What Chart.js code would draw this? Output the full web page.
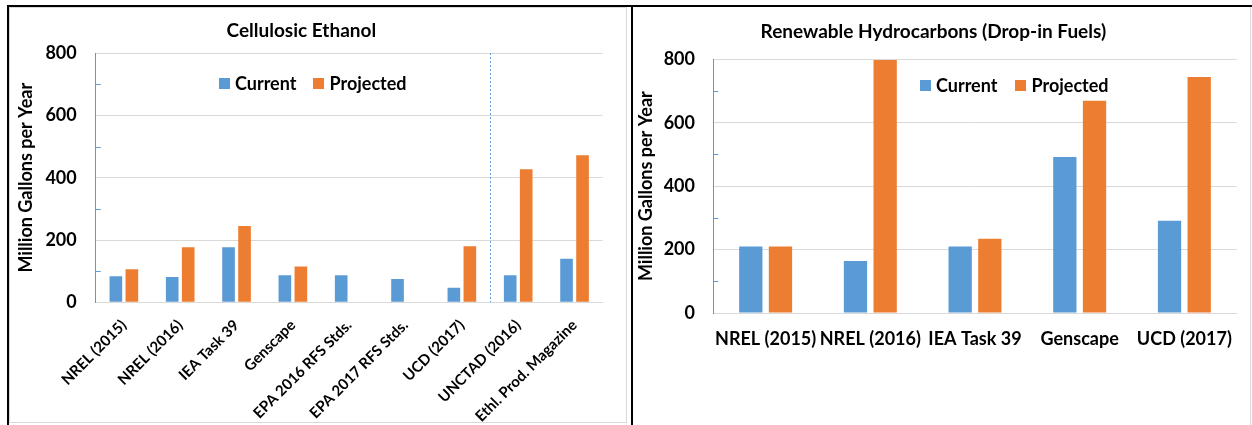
<!DOCTYPE html>
<html>
<head>
    <title>Cellulosic Ethanol / Renewable Hydrocarbons</title>
    <script src="https://cdn.jsdelivr.net/npm/chart.js"></script>
    <style>
        body { margin: 0; background: #fff; font-family: Lato, sans-serif; }
        .page { position: relative; width: 1252px; height: 425px; overflow: hidden; }
        .panel { position: absolute; top: 0; height: 425px; }
        .line { position: absolute; background: #000; }
        .gline { position: absolute; background: #d9d9d9; }
        .legend { position: absolute; display: flex; align-items: center; font-weight: bold; font-size: 18px; color: #000; white-space: nowrap; }
        .legend .sw { width: 11px; height: 11px; margin-right: 5px; }
        .legend .item { display: flex; align-items: center; margin-right: 17px; }
    </style>
</head>
<body>
<div class="page">
    <div class="panel" style="left:0;width:630px;"><canvas id="leftChart"></canvas></div>
    <div class="panel" style="left:630px;width:622px;"><canvas id="rightChart"></canvas></div>

    <!-- chart frames -->
    <div class="gline" style="left:9px;top:7px;width:618px;height:1px;"></div>
    <div class="gline" style="left:9px;top:7px;width:1px;height:416px;"></div>
    <div class="gline" style="left:626px;top:7px;width:1px;height:416px;"></div>
    <div class="gline" style="left:9px;top:422px;width:618px;height:1px;"></div>
    <div class="gline" style="left:1250px;top:7px;width:1px;height:418px;"></div>
    <div class="line" style="left:7px;top:5px;width:1245px;height:2px;"></div>
    <div class="line" style="left:7px;top:5px;width:2px;height:420px;"></div>
    <div class="line" style="left:631px;top:5px;width:2px;height:420px;"></div>

    <div class="legend" style="left:219px;top:72px;">
        <div class="item"><div class="sw" style="background:#5B9BD5"></div>Current</div>
        <div class="item"><div class="sw" style="background:#ED7D31"></div>Projected</div>
    </div>
    <div class="legend" style="left:920px;top:74px;">
        <div class="item" style="margin-right:18px;"><div class="sw" style="background:#5B9BD5"></div>Current</div>
        <div class="item"><div class="sw" style="background:#ED7D31"></div>Projected</div>
    </div>
</div>

<script>
    // data
    const leftCategories = ['NREL (2015)', 'NREL (2016)', 'IEA Task 39', 'Genscape', 'EPA 2016 RFS Stds.',
        'EPA 2017 RFS Stds.', 'UCD (2017)', 'UNCTAD (2016)', 'Ethl. Prod. Magazine'];
    const leftCurrent = [84, 81, 177, 87, 87, 75, 47, 87, 140];
    const leftProjected = [106, 177, 245, 115, null, null, 180, 427, 472];

    const rightCategories = ['NREL (2015)', 'NREL (2016)', 'IEA Task 39', 'Genscape', 'UCD (2017)'];
    const rightCurrent = [210, 164, 210, 492, 291];
    const rightProjected = [210, 798, 234, 669, 744];

    const yMin = 0;
    const yMax = 800;
    const yStep = 200;
    const minorTicks = [100, 300, 500, 700];

    const BLUE = '#5B9BD5';
    const ORANGE = '#ED7D31';
    const GRID = '#d9d9d9';
    const FONT = 'Lato';

    // small blue minor ticks on the value axis + optional dashed divider
    const axisExtras = {
        id: 'axisExtras',
        afterDraw(chart, args, opts) {
            const ctx = chart.ctx;
            const y = chart.scales.y;
            const x = chart.scales.x;
            ctx.save();
            ctx.strokeStyle = BLUE;
            ctx.lineWidth = 1;
            minorTicks.forEach(v => {
                const py = Math.round(y.getPixelForValue(v)) + 0.5;
                ctx.beginPath();
                ctx.moveTo(y.right, py);
                ctx.lineTo(y.right + 5, py);
                ctx.stroke();
            });
            if (opts.dividerAfter != null) {
                const i = opts.dividerAfter;
                const px = Math.round((x.getPixelForValue(i) + x.getPixelForValue(i + 1)) / 2) + 0.5;
                ctx.setLineDash([2, 2]);
                ctx.beginPath();
                ctx.moveTo(px, chart.chartArea.top);
                ctx.lineTo(px, chart.chartArea.bottom);
                ctx.stroke();
            }
            ctx.restore();
        }
    };

    function makeChart(id, cats, cur, proj, cfg) {
        const ctx = document.getElementById(id).getContext('2d');
        return new Chart(ctx, {
            type: 'bar',
            data: {
                labels: cats,
                datasets: [
                    { label: 'Current', data: cur, backgroundColor: BLUE },
                    { label: 'Projected', data: proj, backgroundColor: ORANGE }
                ]
            },
            options: {
                responsive: false,
                animation: false,
                devicePixelRatio: 1,
                categoryPercentage: cfg.catPct,
                barPercentage: cfg.barPct,
                layout: { padding: { left: 0, right: cfg.padRight, top: 0, bottom: 0 } },
                plugins: {
                    legend: { display: false },
                    tooltip: { enabled: false },
                    title: {
                        display: true,
                        text: cfg.title,
                        color: '#000',
                        font: { family: FONT, size: 19, weight: 'bold' },
                        padding: { top: cfg.titleTop, bottom: cfg.titleBottom }
                    },
                    axisExtras: { dividerAfter: cfg.divider }
                },
                scales: {
                    x: {
                        grid: { display: false, drawTicks: false },
                        border: { color: GRID },
                        ticks: {
                            color: '#000',
                            autoSkip: false,
                            minRotation: cfg.rot,
                            maxRotation: cfg.rot,
                            padding: cfg.xPad,
                            font: { family: FONT, size: cfg.xFont, weight: 'bold' }
                        },
                        afterFit: s => { s.height = cfg.xHeight; }
                    },
                    y: {
                        min: yMin,
                        max: yMax,
                        grid: { color: GRID, drawTicks: false },
                        border: { color: BLUE },
                        ticks: {
                            stepSize: yStep,
                            color: '#000',
                            padding: cfg.yPad,
                            font: { family: FONT, size: 18, weight: 'bold' }
                        },
                        title: {
                            display: true,
                            text: 'Million Gallons per Year',
                            color: '#000',
                            font: { family: FONT, size: 18, weight: 'bold' },
                            padding: { top: cfg.yTitlePad, bottom: 0 }
                        },
                        afterFit: s => { s.width = cfg.yWidth; }
                    }
                }
            },
            plugins: [axisExtras]
        });
    }

    function draw() {
        const l = document.getElementById('leftChart');
        l.width = 630; l.height = 425;
        const r = document.getElementById('rightChart');
        r.width = 622; r.height = 425;

        makeChart('leftChart', leftCategories, leftCurrent, leftProjected, {
            title: 'Cellulosic Ethanol',
            titleTop: 19.3, titleBottom: 11.0,
            padRight: 27.3,
            yWidth: 95.7, yPad: 19, yTitlePad: 15,
            xHeight: 122.7, xPad: 14, xFont: 15, rot: 45,
            catPct: 0.568, barPct: 0.79,
            divider: 6
        });

        makeChart('rightChart', rightCategories, rightCurrent, rightProjected, {
            title: 'Renewable Hydrocarbons (Drop-in Fuels)',
            titleTop: 20.9, titleBottom: 15.6,
            padRight: 15.3,
            yWidth: 83.3, yPad: 18.3, yTitlePad: 5.5,
            xHeight: 112, xPad: 15, xFont: 18, rot: 0,
            catPct: 0.567, barPct: 0.785,
            divider: null
        });
    }

    document.addEventListener('DOMContentLoaded', draw);
</script>
</body>
</html>
